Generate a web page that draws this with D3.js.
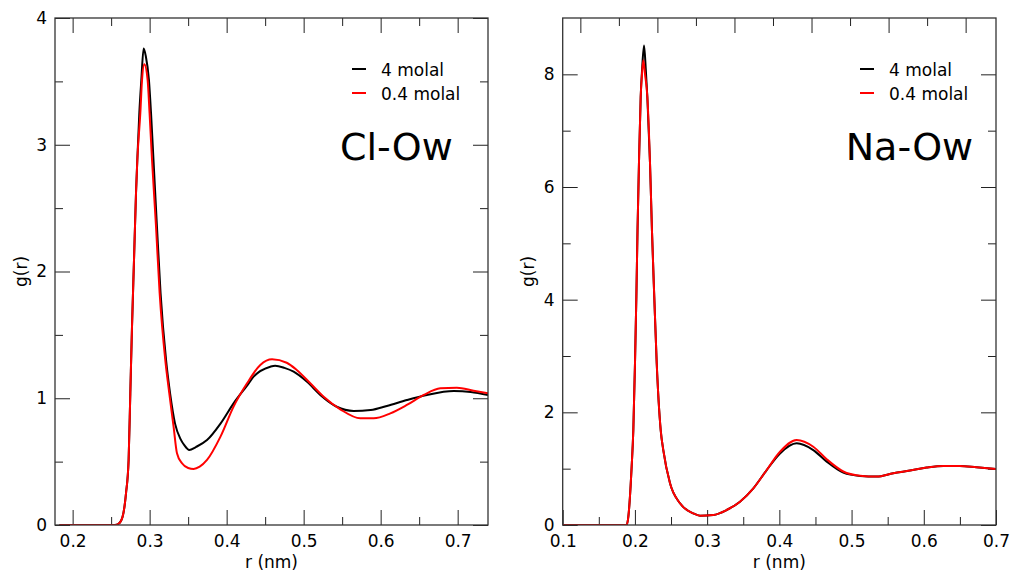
<!DOCTYPE html>
<html>
<head>
<meta charset="utf-8">
<script src="https://cdn.jsdelivr.net/npm/d3@7"></script>
<style>
  html, body { margin: 0; padding: 0; background: #fff; }
  svg { display: block; }
  text { font-family: "DejaVu Sans", sans-serif; }
</style>
</head>
<body>
<svg id="chart" width="1015" height="575"></svg>
<script>
// ---------- data ----------
const seriesNames = ["4 molal", "0.4 molal"];
const seriesColors = ["#000000", "#ff0000"];

// Cl-Ow, 4 molal
const clR4 = [0.183, 0.255, 0.2597, 0.2649, 0.2693, 0.2727, 0.2749, 0.2771, 0.2797, 0.2823, 0.2840, 0.2866, 0.2892, 0.2922, 0.2950, 0.2991, 0.3018, 0.3050, 0.3095, 0.3142, 0.3213, 0.3265, 0.3330, 0.3400, 0.3450, 0.3515, 0.3600, 0.3745, 0.3920, 0.4090, 0.4265, 0.4350, 0.4567, 0.4630, 0.4750, 0.4870, 0.5044, 0.5216, 0.5430, 0.5650, 0.5870, 0.6080, 0.6340, 0.6600, 0.6950, 0.7170, 0.7394];
const clG4 = [0, 0, 0.01, 0.066, 0.25, 0.513, 1.04, 1.565, 2.09, 2.62, 2.88, 3.25, 3.51, 3.76, 3.70, 3.51, 3.25, 2.88, 2.353, 1.828, 1.302, 1.04, 0.80, 0.68, 0.63, 0.592, 0.615, 0.67, 0.80, 0.96, 1.10, 1.17, 1.249, 1.257, 1.24, 1.21, 1.13, 1.026, 0.933, 0.90, 0.907, 0.939, 0.986, 1.026, 1.057, 1.05, 1.026];
// Cl-Ow, 0.4 molal
const clR04 = [0.183, 0.255, 0.2597, 0.2649, 0.2693, 0.2727, 0.2749, 0.2771, 0.2797, 0.2823, 0.2840, 0.2879, 0.2901, 0.2931, 0.2974, 0.2999, 0.3031, 0.3083, 0.3130, 0.3203, 0.3255, 0.3311, 0.3355, 0.3420, 0.3500, 0.3571, 0.3650, 0.3745, 0.3920, 0.4090, 0.4265, 0.4437, 0.4590, 0.4780, 0.4910, 0.5086, 0.5260, 0.5476, 0.5736, 0.5910, 0.6126, 0.6340, 0.6560, 0.6775, 0.6990, 0.7207, 0.7394];
const clG04 = [0, 0, 0.01, 0.066, 0.25, 0.513, 1.04, 1.565, 2.09, 2.62, 2.88, 3.25, 3.51, 3.635, 3.51, 3.25, 2.88, 2.353, 1.828, 1.302, 1.04, 0.776, 0.566, 0.487, 0.45, 0.442, 0.46, 0.513, 0.697, 0.934, 1.118, 1.262, 1.307, 1.28, 1.223, 1.118, 1.012, 0.913, 0.842, 0.842, 0.881, 0.947, 1.026, 1.078, 1.083, 1.06, 1.039];

// Na-Ow, 4 molal
const naR4 = [0.1, 0.1885, 0.1909, 0.1955, 0.1978, 0.2001, 0.2020, 0.2036, 0.2056, 0.2080, 0.2100, 0.2126, 0.2150, 0.2172, 0.2209, 0.2236, 0.2268, 0.2302, 0.2357, 0.2393, 0.2486, 0.2624, 0.2808, 0.2901, 0.3085, 0.3270, 0.3455, 0.3640, 0.3825, 0.4009, 0.4240, 0.4470, 0.4656, 0.4885, 0.5117, 0.5348, 0.5578, 0.5809, 0.6040, 0.6270, 0.6500, 0.6730, 0.7000];
const naG4 = [0, 0, 0.15, 1.04, 1.685, 2.87, 4.05, 5.23, 6.42, 7.60, 8.10, 8.51, 8.10, 7.60, 6.42, 5.23, 4.05, 2.87, 1.685, 1.33, 0.74, 0.385, 0.207, 0.166, 0.178, 0.266, 0.414, 0.651, 0.976, 1.27, 1.45, 1.33, 1.125, 0.93, 0.871, 0.859, 0.919, 0.966, 1.019, 1.049, 1.049, 1.026, 0.996];
// Na-Ow, 0.4 molal
const naR04 = [0.1, 0.1885, 0.1909, 0.1955, 0.1978, 0.2001, 0.2020, 0.2036, 0.2056, 0.2080, 0.2095, 0.2116, 0.2140, 0.2172, 0.2209, 0.2236, 0.2268, 0.2302, 0.2357, 0.2393, 0.2486, 0.2624, 0.2808, 0.2901, 0.3085, 0.3270, 0.3455, 0.3640, 0.3825, 0.4009, 0.4240, 0.4470, 0.4656, 0.4885, 0.5117, 0.5348, 0.5578, 0.5809, 0.6040, 0.6270, 0.6500, 0.6730, 0.7000];
const naG04 = [0, 0, 0.15, 1.04, 1.685, 2.87, 4.05, 5.23, 6.42, 7.60, 7.95, 8.25, 8.00, 7.60, 6.42, 5.23, 4.05, 2.87, 1.685, 1.33, 0.74, 0.385, 0.207, 0.166, 0.178, 0.266, 0.414, 0.651, 0.976, 1.30, 1.51, 1.39, 1.166, 0.95, 0.875, 0.859, 0.919, 0.966, 1.019, 1.049, 1.049, 1.026, 0.996];

// axis settings
const clXDomain = [0.1771, 0.7394];
const clYDomain = [0, 4];
const clXMajor = [0.2, 0.3, 0.4, 0.5, 0.6, 0.7];
const clXMinor = [0.25, 0.35, 0.45, 0.55, 0.65];
const clYMajor = [0, 1, 2, 3, 4];
const clYMinor = [0.5, 1.5, 2.5, 3.5];

const naXDomain = [0.1, 0.7];
const naYDomain = [0, 9];
const naXMajor = [0.1, 0.2, 0.3, 0.4, 0.5, 0.6, 0.7];
const naXMinor = [0.15, 0.25, 0.35, 0.45, 0.55, 0.65];
const naYMajor = [0, 2, 4, 6, 8];
const naYMinor = [1, 3, 5, 7];

const xTitle = "r (nm)";
const yTitle = "g(r)";

// ---------- drawing ----------
const svg = d3.select("#chart");

function zip(rs, gs) { return rs.map((r, i) => [r, gs[i]]); }

function drawPanel(p) {
  const x = d3.scaleLinear().domain(p.xDomain).range([p.left, p.right]);
  const y = d3.scaleLinear().domain(p.yDomain).range([p.bottom, p.top]);
  const xTop = d3.scaleLinear().domain(p.topDomain).range([p.left, p.right]);
  const g = svg.append("g");
  const tickColor = "#222";

  function axis(gen, transform, size, fmt, padding) {
    const a = g.append("g").attr("transform", transform)
      .call(gen.tickSizeInner(size).tickSizeOuter(0).tickPadding(padding || 3).tickFormat(fmt));
    a.select(".domain").remove();
    a.selectAll("line").attr("stroke", tickColor).attr("stroke-width", 1);
    a.selectAll("text").attr("font-family", "DejaVu Sans, sans-serif").attr("font-size", 17).attr("fill", "#000");
    return a;
  }
  const none = () => "";
  // bottom
  axis(d3.axisBottom(x).tickValues(p.xMajor), `translate(0,${p.bottom})`, -15, d3.format(".1f"), 10);
  axis(d3.axisBottom(x).tickValues(p.xMinor), `translate(0,${p.bottom})`, -8, none);
  // top (uses its own scale, as in the reference)
  axis(d3.axisTop(xTop).tickValues([0.2, 0.3, 0.4, 0.5, 0.6, 0.7]), `translate(0,${p.top})`, -15, none);
  axis(d3.axisTop(xTop).tickValues([0.25, 0.35, 0.45, 0.55, 0.65]), `translate(0,${p.top})`, -8, none);
  // left
  axis(d3.axisLeft(y).tickValues(p.yMajor), `translate(${p.left},0)`, -15, d3.format("d"), 8);
  axis(d3.axisLeft(y).tickValues(p.yMinor), `translate(${p.left},0)`, -8, none);
  // right
  axis(d3.axisRight(y).tickValues(p.yMajor), `translate(${p.right},0)`, -15, none);
  axis(d3.axisRight(y).tickValues(p.yMinor), `translate(${p.right},0)`, -8, none);

  // clip
  const clipId = "clip" + p.id;
  svg.append("clipPath").attr("id", clipId).append("rect")
    .attr("x", p.left).attr("y", p.top).attr("width", p.right - p.left).attr("height", p.bottom - p.top);

  const line = d3.line().x(d => x(d[0])).y(d => y(d[1])).curve(d3.curveMonotoneX);
  const lines = g.append("g").attr("clip-path", `url(#${clipId})`);
  p.series.forEach((s, i) => {
    lines.append("path").datum(s).attr("d", line)
      .attr("fill", "none").attr("stroke", seriesColors[i])
      .attr("stroke-width", 2).attr("stroke-linejoin", "round");
  });

  // frame
  g.append("rect").attr("x", p.left).attr("y", p.top)
    .attr("width", p.right - p.left).attr("height", p.bottom - p.top)
    .attr("fill", "none").attr("stroke", "#333").attr("stroke-width", 1.3);

  // axis titles
  g.append("text").attr("x", (p.left + p.right) / 2).attr("y", 568)
    .attr("text-anchor", "middle").attr("font-size", 17).text(xTitle);
  g.append("text").attr("transform", `translate(${p.yTitleX},${(p.top + p.bottom) / 2}) rotate(-90)`)
    .attr("text-anchor", "middle").attr("font-size", 17).text(yTitle);

  // legend
  seriesNames.forEach((name, i) => {
    const ly = p.legendY + i * 24;
    g.append("line").attr("x1", p.legendX).attr("x2", p.legendX + 14)
      .attr("y1", ly - 7).attr("y2", ly - 7)
      .attr("stroke", seriesColors[i]).attr("stroke-width", 2);
    g.append("text").attr("x", p.legendX + 29).attr("y", ly)
      .attr("font-size", 17).text(name);
  });

  // panel label
  g.append("text").attr("x", p.labelX).attr("y", 159.5)
    .attr("font-family", "Noto Sans, Open Sans, sans-serif").attr("font-size", 38)
    .text(p.label);
}

drawPanel({
  id: "cl", left: 55, right: 488, top: 18, bottom: 525,
  xDomain: clXDomain, yDomain: clYDomain, topDomain: clXDomain,
  xMajor: clXMajor, xMinor: clXMinor, yMajor: clYMajor, yMinor: clYMinor,
  series: [zip(clR4, clG4), zip(clR04, clG04)],
  yTitleX: 27, legendX: 352, legendY: 76, labelX: 340, label: "Cl-Ow"
});

drawPanel({
  id: "na", left: 562.7, right: 996, top: 18, bottom: 525,
  xDomain: naXDomain, yDomain: naYDomain, topDomain: clXDomain,
  xMajor: naXMajor, xMinor: naXMinor, yMajor: naYMajor, yMinor: naYMinor,
  series: [zip(naR4, naG4), zip(naR04, naG04)],
  yTitleX: 534, legendX: 860, legendY: 76, labelX: 845.7, label: "Na-Ow"
});
</script>
</body>
</html>
